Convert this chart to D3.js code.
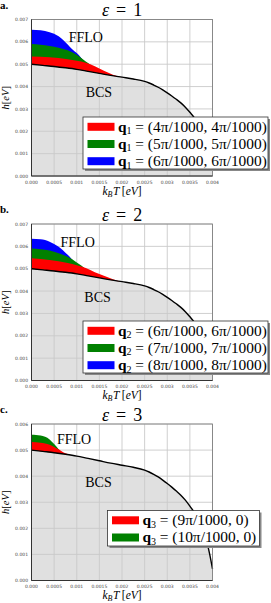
<!DOCTYPE html>
<html lang="en">
<head>
<meta charset="UTF-8">
<title>FFLO / BCS phase diagram</title>
<script src="https://cdn.jsdelivr.net/npm/d3@7/dist/d3.min.js"></script>
<style>
    body { margin: 0; background: #fff; }
    svg { display: block; font-family: "Liberation Serif", "DejaVu Serif", serif; }
    .tickLbl { font-family: "DejaVu Sans", sans-serif; font-size: 4.5px; fill: #444; }
</style>
</head>
<body>
<div id="chart"></div>
<script>
const width = 271, height = 603;

// BCS critical field h_c(T), same in all three panels
const bcsT = [0, 0.00025, 0.0005, 0.00075, 0.001, 0.00125, 0.0015, 0.00175, 0.002, 0.00225, 0.0025,
    0.0026, 0.0027, 0.0028, 0.0029, 0.003, 0.0031, 0.0032, 0.0033, 0.0034, 0.0035, 0.0036, 0.0037, 0.0038, 0.0039, 0.004]
const bcsH = [0.0050, 0.00495, 0.00490, 0.00484, 0.00477, 0.00468, 0.00459, 0.00450, 0.00442, 0.00434, 0.00423,
    0.00416, 0.00407, 0.00397, 0.00385, 0.00372, 0.00358, 0.00343, 0.00327, 0.00308, 0.00285, 0.00260, 0.00222, 0.00180, 0.00130, 0.00045]

// FFLO upper boundaries  [T, h]
// panel a, eps = 1
const q1a = [[0,0.00535],[0.0004,0.00531],[0.0008,0.00522],[0.0012,0.00506],[0.0014,0.00491],[0.0016,0.00471],[0.0018,0.00453],[0.0019,0.00446],[0.002,0.00441]]
const q1b = [[0,0.0059],[0.0002,0.00587],[0.0004,0.00582],[0.0006,0.00574],[0.0008,0.00562],[0.001,0.00542],[0.0011,0.00528],[0.0012,0.00512],[0.0013,0.00498],[0.0014,0.0048],[0.0015,0.00459]]
const q1c = [[0,0.00654],[0.0002,0.00652],[0.0004,0.00643],[0.0006,0.00625],[0.0007,0.00608],[0.0008,0.00588],[0.0009,0.00567],[0.001,0.0055],[0.0011,0.00528],[0.0012,0.0050],[0.0013,0.00472]]
// panel b, eps = 2
const q2a = [[0,0.00547],[0.0004,0.00539],[0.0008,0.00526],[0.0012,0.00503],[0.0014,0.00484],[0.0016,0.00468],[0.0018,0.00453],[0.0019,0.00446],[0.002,0.00441]]
const q2b = [[0,0.0059],[0.0002,0.00587],[0.0004,0.00581],[0.0006,0.00569],[0.0008,0.00553],[0.001,0.00528],[0.0011,0.00514],[0.0012,0.00497],[0.0013,0.0048],[0.0014,0.00465]]
const q2c = [[0,0.00634],[0.0002,0.00632],[0.0004,0.00621],[0.0006,0.00598],[0.0007,0.00582],[0.0008,0.00562],[0.0009,0.0054],[0.001,0.0051],[0.0011,0.0048]]
// panel c, eps = 3
const q3a = [[0,0.00531],[0.0002,0.00528],[0.0004,0.0052],[0.0005,0.00512],[0.0006,0.00503],[0.0007,0.00492],[0.0008,0.00485],[0.0009,0.0048]]
const q3b = [[0,0.00559],[0.0001,0.00558],[0.0002,0.00556],[0.0003,0.00551],[0.0004,0.00541],[0.0005,0.00523],[0.0006,0.00503],[0.0007,0.00485]]

const xTicks = [0, 0.0005, 0.001, 0.0015, 0.002, 0.0025, 0.003, 0.0035, 0.004]
const xTickLabels = ["0.000", "0.0005", "0.001", "0.0015", "0.002", "0.0025", "0.003", "0.0035", "0.004"]
const yTicks7 = [0, 0.001, 0.002, 0.003, 0.004, 0.005, 0.006, 0.007]
const yTicks6 = [0, 0.001, 0.002, 0.003, 0.004, 0.005, 0.006]
const yTickLabels = ["0.000", "0.001", "0.002", "0.003", "0.004", "0.005", "0.006", "0.007"]

const bandColors = ["#ff0000", "#008000", "#0000ff"]
const legendA = [["1", "4π/1000, 4π/1000"], ["1", "5π/1000, 5π/1000"], ["1", "6π/1000, 6π/1000"]]
const legendB = [["2", "6π/1000, 6π/1000"], ["2", "7π/1000, 7π/1000"], ["2", "8π/1000, 8π/1000"]]
const legendC = [["3", "9π/1000, 0"], ["3", "10π/1000, 0"]]

const panels = [
    {tag: "a.", eps: "1", top: 0, yMax: 0.007, yTicks: yTicks7, bands: [q1a, q1b, q1c], legend: legendA,
        ffloAt: [0.0012, 0.00601], bcsAt: [0.00149, 0.00355], legBox: [83, 117, 185, 52]},
    {tag: "b.", eps: "2", top: 204.5, yMax: 0.007, yTicks: yTicks7, bands: [q2a, q2b, q2c], legend: legendB,
        ffloAt: [0.00102, 0.00598], bcsAt: [0.00146, 0.00353], legBox: [83, 116.5, 185, 52]},
    {tag: "c.", eps: "3", top: 404.5, yMax: 0.006, yTicks: yTicks6, bands: [q3a, q3b], legend: legendC,
        ffloAt: [0.00094, 0.00523], bcsAt: [0.00148, 0.0036], legBox: [107.5, 106, 152, 35.5]}
]

const svg = d3.select("#chart").append("svg")
    .attr("width", width).attr("height", height)
    .attr("viewBox", `0 0 ${width} ${height}`)

const plotL = 31.5, plotR = 212.5, plotTop = 19.5, plotH = 156.5
const bcsPts = bcsT.map((t, i) => [t, bcsH[i]])

panels.forEach((p, pi) => {
    const g = svg.append("g").attr("transform", `translate(0,${p.top})`)
    const x = d3.scaleLinear().domain([0, 0.004]).range([plotL, plotR])
    const y = d3.scaleLinear().domain([0, p.yMax]).range([plotTop + plotH, plotTop])

    // panel tag
    g.append("text").attr("x", 0).attr("y", 8.5)
        .style("font-weight", "bold").style("font-size", "11px").text(p.tag)

    // title
    const title = g.append("text").attr("x", (plotL + plotR) / 2).attr("y", plotTop - 3.5)
        .attr("text-anchor", "middle").style("font-size", "18px")
    title.append("tspan").style("font-style", "italic").text("ε")
    title.append("tspan").attr("dx", 7).text("=")
    title.append("tspan").attr("dx", 7).text(p.eps)

    // BCS region (grey)
    const bcsArea = d3.area().x(d => x(d[0])).y0(y(0)).y1(d => y(d[1])).curve(d3.curveMonotoneX)
    g.append("path").datum(bcsPts).attr("d", bcsArea).attr("fill", "#e0e0e0")

    // grid
    g.append("g").selectAll("line").data(xTicks).join("line")
        .attr("x1", d => x(d)).attr("x2", d => x(d)).attr("y1", plotTop).attr("y2", plotTop + plotH)
        .attr("stroke", "#c9c9c9").attr("stroke-width", 0.9)
    g.append("g").selectAll("line").data(p.yTicks).join("line")
        .attr("y1", d => y(d)).attr("y2", d => y(d)).attr("x1", plotL).attr("x2", plotR)
        .attr("stroke", "#c9c9c9").attr("stroke-width", 0.9)

    // FFLO bands, clipped to the region above the BCS line
    const clipId = "above" + pi
    const aboveArea = d3.area().x(d => x(d[0])).y0(plotTop).y1(d => y(d[1])).curve(d3.curveMonotoneX)
    g.append("clipPath").attr("id", clipId).append("path").datum(bcsPts).attr("d", aboveArea)
    const bandArea = d3.area().x(d => x(d[0])).y0(y(0)).y1(d => y(d[1])).curve(d3.curveMonotoneX)
    const bandG = g.append("g").attr("clip-path", `url(#${clipId})`)
    for (let k = p.bands.length - 1; k >= 0; k--) {
        bandG.append("path").datum(p.bands[k]).attr("d", bandArea).attr("fill", bandColors[k])
    }

    // BCS line
    const line = d3.line().x(d => x(d[0])).y(d => y(d[1])).curve(d3.curveMonotoneX)
    g.append("path").datum(bcsPts).attr("d", line).attr("fill", "none")
        .attr("stroke", "#000").attr("stroke-width", 1.4)

    // frame
    g.append("rect").attr("x", plotL).attr("y", plotTop).attr("width", plotR - plotL).attr("height", plotH)
        .attr("fill", "none").attr("stroke", "#777").attr("stroke-width", 0.8)
    g.append("path").attr("d", `M${plotL},${plotTop}V${plotTop + plotH}H${plotR}`)
        .attr("fill", "none").attr("stroke", "#333").attr("stroke-width", 1)

    // tick labels
    g.append("g").selectAll("text").data(xTicks).join("text").attr("class", "tickLbl")
        .attr("x", d => x(d)).attr("y", plotTop + plotH + 7.5).attr("text-anchor", "middle")
        .text((d, i) => xTickLabels[i])
    g.append("g").selectAll("text").data(p.yTicks).join("text").attr("class", "tickLbl")
        .attr("x", plotL - 3.5).attr("y", d => y(d) + 1.6).attr("text-anchor", "end")
        .text((d, i) => yTickLabels[i])

    // axis labels
    const xl = g.append("text").attr("x", (plotL + plotR) / 2).attr("y", plotTop + plotH + 18.5)
        .attr("text-anchor", "middle").style("font-size", "11.5px")
    xl.append("tspan").style("font-style", "italic").text("k")
    xl.append("tspan").style("font-style", "italic").style("font-size", "8px").attr("dy", 2).text("B")
    xl.append("tspan").style("font-style", "italic").attr("dy", -2).attr("dx", 0.5).text("T")
    xl.append("tspan").attr("dx", 2.5).text("[")
    xl.append("tspan").style("font-style", "italic").text("eV")
    xl.append("tspan").text("]")

    const yl = g.append("text").attr("transform", `translate(8.5,${plotTop + plotH / 2}) rotate(-90)`)
        .attr("text-anchor", "middle").style("font-size", "10.5px")
    yl.append("tspan").style("font-style", "italic").text("h")
    yl.append("tspan").text("[")
    yl.append("tspan").style("font-style", "italic").text("eV")
    yl.append("tspan").text("]")

    // region annotations
    g.append("text").attr("x", x(p.ffloAt[0])).attr("y", y(p.ffloAt[1]))
        .attr("text-anchor", "middle").style("font-size", "14px").text("FFLO")
    g.append("text").attr("x", x(p.bcsAt[0])).attr("y", y(p.bcsAt[1]))
        .attr("text-anchor", "middle").style("font-size", "14px").text("BCS")

    // legend
    const [lx, ly, lw, lh] = p.legBox
    g.append("rect").attr("x", lx + 2).attr("y", ly + 2).attr("width", lw).attr("height", lh).attr("fill", "#888")
    g.append("rect").attr("x", lx).attr("y", ly).attr("width", lw).attr("height", lh)
        .attr("fill", "#fff").attr("stroke", "#333").attr("stroke-width", 0.8)
    p.legend.forEach((e, i) => {
        const cy = ly + 9.8 + i * 17.2
        g.append("rect").attr("x", lx + 4.5).attr("y", cy - 4).attr("width", 27).attr("height", 8)
            .attr("fill", bandColors[i])
        const t = g.append("text").attr("x", lx + 35).attr("y", cy + 4.8).style("font-size", "15.4px")
        t.append("tspan").style("font-weight", "bold").text("q")
        t.append("tspan").style("font-size", "10px").attr("dy", 2.5).text(e[0])
        t.append("tspan").attr("dy", -2.5).attr("dx", 3.8).text("=")
        t.append("tspan").attr("dx", 3.8).text("(" + e[1] + ")")
    })
})
</script>
</body>
</html>
